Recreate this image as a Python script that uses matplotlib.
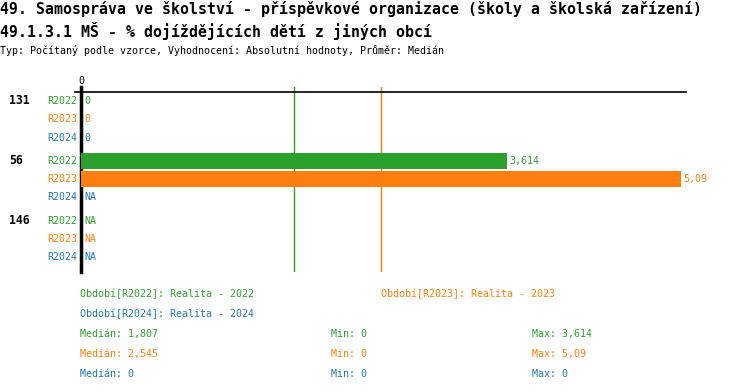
import matplotlib
matplotlib.use("Agg")
import matplotlib.pyplot as plt

# data
groups = ["131", "56", "146"]
periods = ["R2022", "R2023", "R2024"]
colors = {"R2022": "#2ca02c", "R2023": "#ff7f0e", "R2024": "#1f77b4"}
values = {
    "131": [0, 0, 0],
    "56": [3.614, 5.09, None],
    "146": [None, None, None],
}
medians = {"R2022": 1.807, "R2023": 2.545, "R2024": 0}
mins = {"R2022": 0, "R2023": 0, "R2024": 0}
maxs = {"R2022": 3.614, "R2023": 5.09, "R2024": 0}
legend_text = {"R2022": "Realita - 2022", "R2023": "Realita - 2023", "R2024": "Realita - 2024"}

title1 = "49. Samospráva ve školství - příspěvkové organizace (školy a školská zařízení)"
title2 = "49.1.3.1 MŠ - % dojíždějících dětí z jiných obcí"
subtitle = "Typ: Počítaný podle vzorce, Vyhodnocení: Absolutní hodnoty, Průměr: Medián"


def fmt(v):
    if v is None:
        return "NA"
    return ("%g" % v).replace(".", ",")


W, H = 750, 392
fig = plt.figure(figsize=(W / 100, H / 100), dpi=100)
plt.rcParams['font.family'] = ['DejaVu Sans Mono']

# axes area in pixels
x0, x1 = 81, 686
ytop, ybot = 87, 272
ax = fig.add_axes([x0 / W, 1 - ybot / H, (x1 - x0) / W, (ybot - ytop) / H])
ax.set_xlim(0, (x1 - x0) / 117.8)
ax.set_ylim(ybot, ytop)
ax.axis("off")


def fy(y):
    return 1 - y / H


fig.text(0, fy(9), title1, fontsize=10.7, fontweight="semibold", va="center", ha="left")
fig.text(0, fy(31), title2, fontsize=10.7, fontweight="semibold", va="center", ha="left")
fig.text(0, fy(50), subtitle, fontsize=7.2, va="center", ha="left")

# axis lines
ax.plot([-0.05, ax.get_xlim()[1]], [92, 92], color="black", lw=1.2, clip_on=False)
ax.plot([0, 0], [ytop, ybot], color="black", lw=2.5, clip_on=False)
ax.text(0, 81, "0", fontsize=7.2, ha="center", va="center")

# median lines
for p in periods:
    if medians[p] > 0:
        ax.plot([medians[p], medians[p]], [ytop, ybot], color=colors[p], lw=1, zorder=1)

row_y = 101
bar_h = 16
for g in groups:
    ax.text(-72 / 117.8, row_y, g, fontsize=8.3, fontweight="bold", ha="left", va="center")
    for i, p in enumerate(periods):
        y = row_y + i * 18.3
        v = values[g][i]
        ax.text(-4 / 117.8, y, p, fontsize=7.2, color=colors[p], ha="right", va="center")
        if v is not None and v > 0:
            ax.barh(y, v, height=bar_h, color=colors[p], zorder=2)
            ax.text(v + 3 / 117.8, y, fmt(v), fontsize=7.2, color=colors[p], ha="left", va="center")
        else:
            ax.text(3 / 117.8, y, fmt(v), fontsize=7.2, color=colors[p], ha="left", va="center")
    row_y += 3 * 18.3 + 5

# footer legend and stats
fs = 7.2
fig.text(80 / W, fy(294), "Období[R2022]: " + legend_text["R2022"], fontsize=fs, color=colors["R2022"], va="center")
fig.text(381 / W, fy(294), "Období[R2023]: " + legend_text["R2023"], fontsize=fs, color=colors["R2023"], va="center")
fig.text(80 / W, fy(314), "Období[R2024]: " + legend_text["R2024"], fontsize=fs, color=colors["R2024"], va="center")
for i, p in enumerate(periods):
    y = fy(334 + i * 20)
    fig.text(80 / W, y, "Medián: " + fmt(medians[p]), fontsize=fs, color=colors[p], va="center")
    fig.text(331 / W, y, "Min: " + fmt(mins[p]), fontsize=fs, color=colors[p], va="center")
    fig.text(532 / W, y, "Max: " + fmt(maxs[p]), fontsize=fs, color=colors[p], va="center")

fig.savefig("out.png", dpi=100)
